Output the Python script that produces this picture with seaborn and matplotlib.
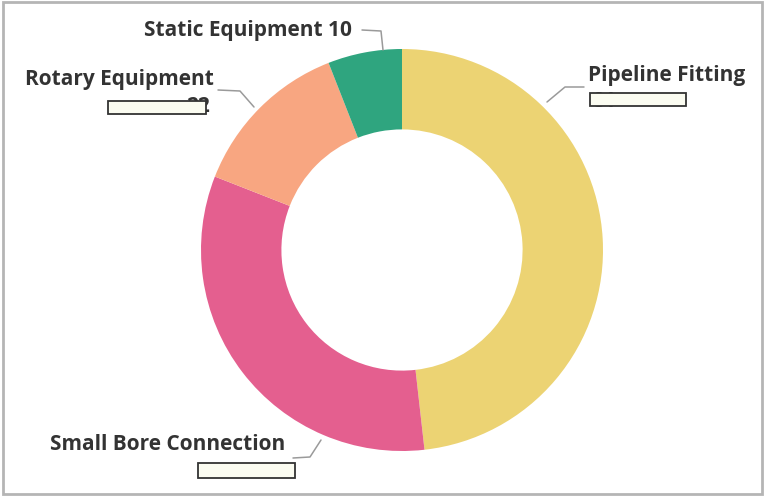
import matplotlib
matplotlib.use("Agg")
import matplotlib.pyplot as plt
from matplotlib.patches import Rectangle
import seaborn as sns

# slice data, clockwise from 12 o'clock
categories = ["Pipeline Fitting", "Small Bore Connection", "Rotary Equipment", "Static Equipment"]
counts = [81, 55, 22, 10]
colors = ["#ECD373", "#E45F8F", "#F8A681", "#2FA57F"]

sns.set_theme(style="white")
plt.rcParams["font.family"] = ["Open Sans", "DejaVu Sans"]

W, H = 768, 498
fig = plt.figure(figsize=(W / 100, H / 100), dpi=100)
ax = fig.add_axes([0, 0, 1, 1])

cx, cy, r = 402, H - 250, 201
ax.pie(counts, colors=colors, startangle=90, counterclock=False,
       center=(cx, cy), radius=r, frame=True,
       wedgeprops=dict(width=r * 0.4, linewidth=0))
ax.set_xlim(0, W)
ax.set_ylim(0, H)
ax.set_aspect("equal")
ax.axis("off")

txt = dict(fontsize=15, fontweight="bold", color="#333333", va="center")
line = dict(color="#9a9a9a", lw=1.1)


def px(x, y):
    return x, H - y


# Static Equipment (value shown)
ax.text(*px(352, 30), f"{categories[3]} {counts[3]}", ha="right", **txt)
ax.plot(*zip(px(362, 30), px(381, 31), px(383, 50)), **line)

# Rotary Equipment
ax.text(*px(25, 79), categories[2], ha="left", **txt)
ax.text(*px(210, 106), str(counts[2]), ha="right", **txt)
ax.plot(*zip(px(218, 90), px(240, 91), px(254, 107)), **line)

# Pipeline Fitting
ax.text(*px(588, 75), categories[0], ha="left", **txt)
ax.text(*px(592, 101), str(counts[0]), ha="left", **txt)
ax.plot(*zip(px(584, 87), px(565, 87), px(547, 102)), **line)

# Small Bore Connection
ax.text(*px(50, 445), categories[1], ha="left", **txt)
ax.text(*px(230, 472), str(counts[1]), ha="left", fontsize=12, fontweight="bold",
        color="#333333", va="center")
ax.plot(*zip(px(293, 458), px(310, 457), px(321, 440)), **line)

# masking boxes over the hidden values
for x0, y0, x1, y1 in [(108, 101, 206, 114), (590, 93, 686, 106), (198, 463, 295, 478)]:
    ax.add_patch(Rectangle((x0, H - y1), x1 - x0, y1 - y0, facecolor="#FBFCF1",
                           edgecolor="#333333", lw=1.3, zorder=5))

# outer frame
fig.add_artist(Rectangle((3 / W, 4 / H), 759 / W, 492 / H, transform=fig.transFigure,
                         fill=False, edgecolor="#b5b5b5", lw=2))

fig.savefig("out.png", dpi=100, facecolor="white")
